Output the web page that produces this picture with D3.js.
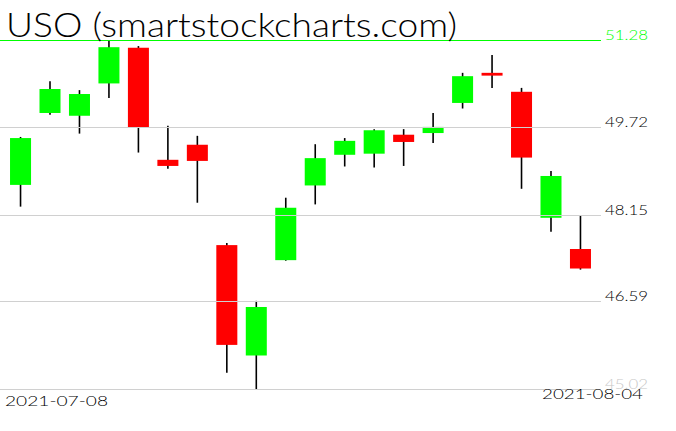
<!DOCTYPE html>
<html>
<head>
<meta charset="utf-8">
<script src="https://cdn.jsdelivr.net/npm/d3@7"></script>
<style>
  body { margin: 0; background: #fff; }
  svg { display: block; }
</style>
</head>
<body>
<div class="canvas"></div>
<script>
// USO daily candles, 2021-07-08 .. 2021-08-04
var dates = ['2021-07-08','2021-07-09','2021-07-12','2021-07-13','2021-07-14',
             '2021-07-15','2021-07-16','2021-07-19','2021-07-20','2021-07-21',
             '2021-07-22','2021-07-23','2021-07-26','2021-07-27','2021-07-28',
             '2021-07-29','2021-07-30','2021-08-02','2021-08-03','2021-08-04'];
var open  = [48.69, 49.98, 49.93, 50.51, 51.15, 49.14, 49.41, 47.61, 45.63, 47.34,
             48.68, 49.23, 49.25, 49.59, 49.62, 50.16, 50.70, 50.36, 48.10, 47.54];
var high  = [49.55, 50.55, 50.39, 51.28, 51.18, 49.75, 49.57, 47.65, 46.61, 48.46,
             49.42, 49.53, 49.69, 49.69, 49.98, 50.70, 51.02, 50.43, 48.94, 48.14];
var low   = [48.30, 49.95, 49.61, 50.25, 49.27, 48.98, 48.37, 45.32, 45.02, 47.33,
             48.34, 49.02, 49.00, 49.03, 49.44, 50.06, 50.43, 48.62, 47.85, 47.17];
var close = [49.53, 50.41, 50.32, 51.16, 49.72, 49.03, 49.12, 45.82, 46.50, 48.28,
             49.17, 49.48, 49.67, 49.46, 49.73, 50.64, 50.65, 49.18, 48.85, 47.19];
var priceTicks = [45.02, 46.59, 48.15, 49.72, 51.28];
var title = 'USO (smartstockcharts.com)';

var W = 676, H = 431;
var thinFont = 'Lato, "DejaVu Sans", sans-serif';

var svg = d3.select('.canvas').append('svg')
    .attr('width', W)
    .attr('height', H);

var data = dates.map(function(d, i) {
  return {date: d, o: open[i], h: high[i], l: low[i], c: close[i]};
});

var x = d3.scaleBand()
    .domain(dates)
    .range([5.8, 595.2])
    .paddingInner(0.287)
    .paddingOuter(0.1435);

var y = d3.scaleLinear()
    .domain([45.02, 51.28])
    .range([389.5, 40.5]);

// candles first, grid goes on top of them
var candle = svg.append('g').selectAll('g').data(data).enter().append('g');

candle.append('line')
    .attr('x1', function(d) { return x(d.date) + x.bandwidth() / 2; })
    .attr('x2', function(d) { return x(d.date) + x.bandwidth() / 2; })
    .attr('y1', function(d) { return y(d.h); })
    .attr('y2', function(d) { return y(d.l); })
    .style('stroke', '#000')
    .style('stroke-width', 1.6);

candle.append('rect')
    .attr('x', function(d) { return x(d.date); })
    .attr('width', x.bandwidth())
    .attr('y', function(d) { return y(Math.max(d.o, d.c)); })
    .attr('height', function(d) { return Math.max(1, y(Math.min(d.o, d.c)) - y(Math.max(d.o, d.c))); })
    .style('fill', function(d) { return d.c >= d.o ? '#00ff00' : '#ff0000'; });

// price grid + labels on the right
var yAxis = d3.axisRight(y)
    .tickValues(priceTicks)
    .tickSize(-601)
    .tickPadding(4)
    .tickFormat(d3.format('.2f'));

var ax = svg.append('g')
    .attr('transform', 'translate(601,0)')
    .call(yAxis);

ax.select('.domain').remove();
ax.selectAll('.tick')
    .attr('transform', function(d) { return 'translate(0,' + (Math.floor(y(d)) + 0.5) + ')'; });
ax.selectAll('.tick line')
    .style('stroke', function(d) { return d === 51.28 ? '#00ff00' : '#d0d0d0'; })
    .style('stroke-width', 1)
    .style('shape-rendering', 'crispEdges');
ax.selectAll('.tick text')
    .attr('dy', '-0.02em')
    .attr('textLength', 43)
    .attr('lengthAdjust', 'spacingAndGlyphs')
    .style('font-family', thinFont)
    .style('font-weight', 300)
    .style('font-size', '14px')
    .style('fill', function(d) {
      if (d === 51.28) return '#00ff00';
      if (d === 45.02) return '#c8c8c8';
      return '#000';
    });

// date labels
svg.append('text')
    .attr('x', 5)
    .attr('y', 406)
    .attr('textLength', 103)
    .attr('lengthAdjust', 'spacingAndGlyphs')
    .style('font-family', thinFont)
    .style('font-weight', 300)
    .style('font-size', '14px')
    .text(dates[0]);

svg.append('text')
    .attr('x', 542)
    .attr('y', 399)
    .attr('textLength', 101)
    .attr('lengthAdjust', 'spacingAndGlyphs')
    .style('font-family', thinFont)
    .style('font-weight', 300)
    .style('font-size', '14px')
    .text(dates[dates.length - 1]);

// title
svg.append('text')
    .attr('x', 6)
    .attr('y', 37)
    .attr('textLength', 451)
    .attr('lengthAdjust', 'spacingAndGlyphs')
    .style('font-family', thinFont)
    .style('font-weight', 300)
    .style('font-size', '33px')
    .text(title);
</script>
</body>
</html>
